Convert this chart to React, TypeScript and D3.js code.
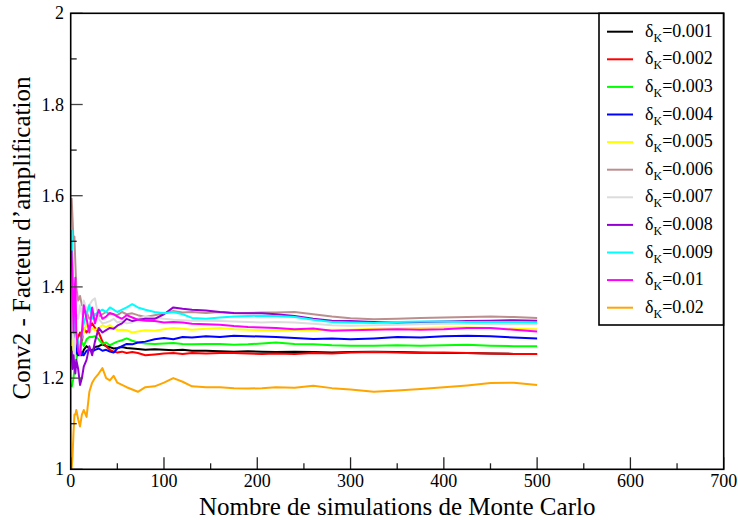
import React from "react";
import * as d3 from "d3";

const xs = [1,2,3,4,5,6,8,10,12,14,17,20,23,26,30,34,38,42,46,50,55,60,66,72,80,90,100,110,120,130,145,160,175,190,205,220,240,260,280,300,325,350,375,400,425,450,475,500];

const labels = ["0.001","0.002","0.003","0.004","0.005","0.006","0.007","0.008","0.009","0.01","0.02"];
const colors = ["#000000","#ff0000","#00ff00","#0000ff","#ffff00","#bc8f8f","#dcdcdc","#9400d3","#00ffff","#ff00ff","#ffa500"];

const s001 = [1.25,1.27,1.24,1.26,1.28,1.25,1.27,1.26,1.25,1.262,1.27,1.265,1.26,1.268,1.27,1.274,1.27,1.268,1.265,1.266,1.268,1.266,1.265,1.264,1.262,1.263,1.262,1.261,1.262,1.26,1.26,1.259,1.258,1.259,1.258,1.257,1.258,1.257,1.256,1.257,1.258,1.257,1.256,1.255,1.255,1.254,1.253,1.253];
const s002 = [1.30,1.26,1.32,1.28,1.30,1.27,1.29,1.30,1.28,1.31,1.30,1.31,1.32,1.31,1.30,1.28,1.27,1.262,1.258,1.256,1.258,1.255,1.257,1.255,1.25,1.252,1.254,1.255,1.253,1.255,1.254,1.255,1.255,1.254,1.253,1.254,1.253,1.255,1.254,1.256,1.257,1.256,1.255,1.256,1.255,1.254,1.253,1.253];
const s003 = [1.18,1.19,1.20,1.22,1.25,1.24,1.26,1.27,1.28,1.27,1.285,1.29,1.29,1.292,1.285,1.275,1.278,1.272,1.276,1.28,1.283,1.287,1.282,1.278,1.276,1.275,1.276,1.277,1.275,1.274,1.275,1.275,1.273,1.274,1.276,1.278,1.275,1.274,1.272,1.271,1.271,1.272,1.271,1.272,1.273,1.271,1.27,1.27];
const s004 = [1.25,1.29,1.24,1.27,1.30,1.26,1.25,1.26,1.255,1.25,1.26,1.262,1.258,1.262,1.265,1.26,1.262,1.258,1.256,1.265,1.27,1.275,1.274,1.278,1.28,1.285,1.288,1.285,1.29,1.289,1.292,1.29,1.293,1.292,1.291,1.29,1.288,1.286,1.287,1.285,1.287,1.29,1.289,1.292,1.293,1.292,1.289,1.287];
const s005 = [1.27,1.30,1.25,1.24,1.28,1.30,1.27,1.28,1.29,1.30,1.32,1.30,1.31,1.305,1.31,1.316,1.312,1.316,1.31,1.305,1.306,1.305,1.30,1.302,1.305,1.304,1.307,1.31,1.308,1.306,1.308,1.31,1.307,1.306,1.305,1.304,1.306,1.305,1.306,1.306,1.308,1.309,1.31,1.311,1.311,1.31,1.308,1.307];
const s006 = [1.595,1.55,1.50,1.51,1.45,1.40,1.37,1.38,1.36,1.355,1.345,1.33,1.335,1.34,1.335,1.34,1.345,1.34,1.34,1.338,1.345,1.34,1.342,1.338,1.334,1.338,1.342,1.347,1.344,1.345,1.343,1.345,1.342,1.343,1.344,1.344,1.345,1.34,1.335,1.331,1.329,1.33,1.332,1.333,1.334,1.335,1.334,1.332];
const s007 = [1.40,1.30,1.28,1.22,1.30,1.34,1.33,1.36,1.34,1.37,1.35,1.36,1.37,1.375,1.33,1.32,1.322,1.325,1.33,1.322,1.325,1.32,1.322,1.33,1.335,1.332,1.33,1.328,1.327,1.326,1.326,1.325,1.324,1.323,1.322,1.323,1.322,1.319,1.316,1.315,1.316,1.317,1.318,1.319,1.319,1.318,1.318,1.318];
const s008 = [1.26,1.22,1.25,1.225,1.21,1.24,1.22,1.185,1.20,1.225,1.24,1.27,1.25,1.28,1.31,1.30,1.305,1.31,1.308,1.315,1.32,1.33,1.325,1.328,1.33,1.33,1.34,1.355,1.352,1.35,1.348,1.345,1.343,1.342,1.342,1.34,1.336,1.33,1.326,1.325,1.323,1.322,1.323,1.324,1.325,1.326,1.327,1.326];
const s009 = [1.525,1.45,1.40,1.35,1.30,1.30,1.28,1.25,1.30,1.32,1.34,1.36,1.33,1.34,1.345,1.35,1.345,1.355,1.35,1.345,1.35,1.355,1.362,1.355,1.35,1.345,1.342,1.345,1.34,1.332,1.33,1.333,1.335,1.336,1.337,1.336,1.334,1.328,1.323,1.322,1.321,1.323,1.324,1.324,1.323,1.323,1.323,1.322];
const s01 = [1.48,1.40,1.30,1.38,1.42,1.30,1.26,1.25,1.30,1.36,1.33,1.30,1.355,1.32,1.35,1.33,1.335,1.343,1.34,1.335,1.33,1.338,1.333,1.328,1.326,1.325,1.322,1.323,1.322,1.319,1.318,1.317,1.314,1.312,1.311,1.31,1.307,1.309,1.304,1.305,1.306,1.307,1.306,1.307,1.31,1.31,1.306,1.302];
const s02 = [1.00,1.03,1.08,1.12,1.12,1.13,1.11,1.094,1.12,1.13,1.115,1.17,1.19,1.20,1.21,1.222,1.20,1.195,1.205,1.19,1.185,1.18,1.175,1.17,1.18,1.182,1.19,1.2,1.192,1.182,1.18,1.18,1.178,1.177,1.178,1.18,1.179,1.183,1.178,1.175,1.17,1.173,1.176,1.18,1.184,1.189,1.19,1.185];

const series = [s001,s002,s003,s004,s005,s006,s007,s008,s009,s01,s02];

const xTicks = [0,100,200,300,400,500,600,700];
const xMinor = [50,150,250,350,450,550,650];
const yTicks = [1,1.2,1.4,1.6,1.8,2];
const yMinor = [1.1,1.3,1.5,1.7,1.9];

const W = 738, H = 520;
const L = 70.7, R = 723.7, T = 13.3, B = 469.3;
const ts = { fontFamily: '"Liberation Serif"' };

export default function App() {
  const x = d3.scaleLinear().domain([0, 700]).range([L, R]);
  const y = d3.scaleLinear().domain([1, 2]).range([B, T]);
  const line = d3.line<number>().x((_, i) => x(xs[i])).y((v) => y(v));

  const legX = 599, legY = 13.3, legW = 124.5, legH = 311.7;
  const entry0 = 31.7, step = 27.6;

  return (
    <svg width={W} height={H} fontFamily="Liberation Serif" style={{ position: "absolute", left: 0, top: 0, background: "#fff" }}>
      <rect x={0} y={0} width={W} height={H} fill="#fff" />
      <defs>
        <clipPath id="plot"><rect x={L} y={T} width={R - L} height={B - T} /></clipPath>
      </defs>
      <g clipPath="url(#plot)">
        {series.map((s, k) => (
          <path key={k} d={line(s) || ""} fill="none" stroke={colors[k]} strokeWidth={2} strokeLinejoin="round" />
        ))}
      </g>
      {xTicks.map((t) => (
        <g key={"xt" + t}>
          <line x1={x(t)} x2={x(t)} y1={B} y2={B - 12} stroke="#222" strokeWidth={1.3} />
          <text x={x(t)} y={487} textAnchor="middle" fontSize={18} style={ts}>{t}</text>
        </g>
      ))}
      {xMinor.map((t) => (
        <line key={"xm" + t} x1={x(t)} x2={x(t)} y1={B} y2={B - 6} stroke="#222" strokeWidth={1.3} />
      ))}
      {yTicks.map((t) => (
        <g key={"yt" + t}>
          <line x1={L} x2={L + 12} y1={y(t)} y2={y(t)} stroke="#444" strokeWidth={1.3} />
          <text x={64} y={y(t) + 6} textAnchor="end" fontSize={18} style={ts}>{d3.format("")(t)}</text>
        </g>
      ))}
      {yMinor.map((t) => (
        <line key={"ym" + t} x1={L} x2={L + 6} y1={y(t)} y2={y(t)} stroke="#222" strokeWidth={1.3} />
      ))}
      <rect x={L} y={T} width={R - L} height={B - T} fill="none" stroke="#000" strokeWidth={1.6} />
      <rect x={legX} y={legY} width={legW} height={legH} fill="#fff" stroke="#000" strokeWidth={1.6} />
      {labels.map((lab, k) => {
        const cy = entry0 + k * step;
        return (
          <g key={"lg" + k}>
            <line x1={607} x2={633} y1={cy} y2={cy} stroke={colors[k]} strokeWidth={2} />
            <text x={645} y={cy + 5} fontSize={18} style={ts}>
              δ<tspan fontSize={12} dy={5}>K</tspan><tspan dy={-5}>={lab}</tspan>
            </text>
          </g>
        );
      })}
      <text x={(L + R) / 2} y={515} textAnchor="middle" fontSize={25} style={ts}>Nombre de simulations de Monte Carlo</text>
      <text transform="translate(30, 238) rotate(-90)" textAnchor="middle" fontSize={25} style={ts}>Conv2 - Facteur d’amplification</text>
    </svg>
  );
}
